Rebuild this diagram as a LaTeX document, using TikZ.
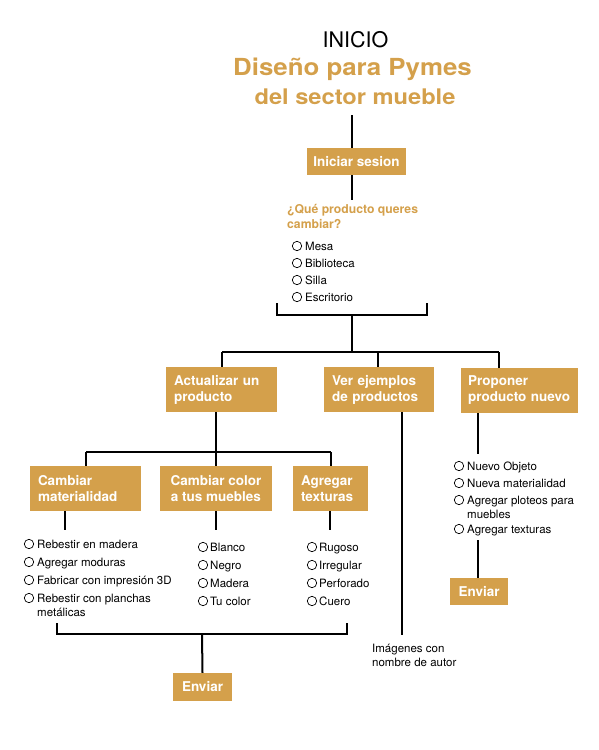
\documentclass[tikz,border=0pt]{standalone}
\usepackage{fontspec}
\setmainfont{TeX Gyre Heros}
\definecolor{gold}{HTML}{D4A04B}
\begin{document}
\begin{tikzpicture}[x=1pt,y=-1pt,
  box/.style={fill=gold,text=white,font=\bfseries\fontsize{13.5}{16}\selectfont,inner sep=0pt,align=left},
  opt/.style={anchor=base west,inner sep=0pt,font=\fontsize{11.5}{14}\selectfont,align=left},
  wire/.style={line width=2pt},
  ring/.style={line width=0.7pt}]
\useasboundingbox (0,0) rectangle (598,750);

% titles
\node[anchor=base,inner sep=0pt,font=\fontsize{21.5}{24}\selectfont] (t1) at (355.5,47) {INICIO};
\node[anchor=base,inner sep=0pt,text=gold,xscale=1.1,font=\bfseries\fontsize{23.5}{28}\selectfont] (t2) at (352.5,75) {Diseño para Pymes};
\node[anchor=base,inner sep=0pt,text=gold,xscale=1.1,font=\bfseries\fontsize{21.5}{24}\selectfont] (t3) at (355,104) {del sector mueble};

% boxes
\node[box,minimum width=99pt,minimum height=27pt,align=center] (ini) at (356.5,161.5) {Iniciar sesion};
\node[box,minimum width=111pt,minimum height=45pt,text width=95pt] (act) at (221.5,389.5) {Actualizar un\\producto};
\node[box,minimum width=110pt,minimum height=45pt,text width=94pt] (ver) at (379,389.5) {Ver ejemplos\\de productos};
\node[box,minimum width=117pt,minimum height=45pt,text width=103pt] (pro) at (519.5,390.5) {Proponer\\producto nuevo};
\node[box,minimum width=111pt,minimum height=45pt,text width=95pt] (mat) at (85.5,488.5) {Cambiar\\materialidad};
\node[box,minimum width=112pt,minimum height=45pt,align=center] (col) at (216,488.5) {Cambiar color\\a tus muebles};
\node[box,minimum width=75pt,minimum height=45pt,text width=59pt] (tex) at (330.5,488.5) {Agregar\\texturas};
\node[box,minimum width=59pt,minimum height=28pt,align=center] (env1) at (202.5,687) {Enviar};
\node[box,minimum width=58pt,minimum height=27pt,align=center] (env2) at (479,591.5) {Enviar};

% question (base = last line)
\node[anchor=base west,inner sep=0pt,text=gold,align=left,font=\bfseries\fontsize{12.2}{14.5}\selectfont] (q) at (287,228) {¿Qué producto queres\\cambiar?};

% options: product
\foreach \t/\y [count=\i] in {Mesa/246,Biblioteca/263,Silla/280,Escritorio/297}{
  \draw[ring] (297,\y) circle (4.7);
  \node[opt] (p\i) at (305,\y+4) {\t};
}
% options: materialidad
\foreach \t/\y [count=\i] in {Rebestir en madera/544,Agregar moduras/562,Fabricar con impresión 3D/580}{
  \draw[ring] (29,\y) circle (4.7);
  \node[opt] (m\i) at (37,\y+4) {\t};
}
\draw[ring] (29,598) circle (4.7);
\node[opt] (m4) at (37,616) {Rebestir con planchas\\metálicas};
% options: color
\foreach \t/\y [count=\i] in {Blanco/547,Negro/565,Madera/583,Tu color/601}{
  \draw[ring] (203,\y) circle (4.7);
  \node[opt] (c\i) at (210,\y+4) {\t};
}
% options: texturas
\foreach \t/\y [count=\i] in {Rugoso/547,Irregular/565,Perforado/583,Cuero/601}{
  \draw[ring] (312,\y) circle (4.7);
  \node[opt] (x\i) at (319,\y+4) {\t};
}
% options: nuevo
\foreach \t/\y [count=\i] in {Nuevo Objeto/466,Nueva materialidad/483}{
  \draw[ring] (459,\y) circle (4.7);
  \node[opt] (n\i) at (467,\y+4) {\t};
}
\draw[ring] (459,500) circle (4.7);
\node[opt] (n3) at (467,518) {Agregar ploteos para\\muebles};
\draw[ring] (459,529) circle (4.7);
\node[opt] (n4) at (467,533) {Agregar texturas};

% imagenes
\node[opt] (img) at (372,666) {Imágenes con\\nombre de autor};

% connectors
\coordinate (top) at (352,115);
\draw[line width=2.7pt] (top) -- (top |- ini.north);
\coordinate (s1) at (352,175);
\coordinate (s2) at (352,200);
\draw[line width=2.7pt] (s1) -- (s2);

\coordinate (b1) at (277,303);
\coordinate (b2) at (427,303);
\coordinate (bm) at (352,315);
\coordinate (hub) at (352,352);
\draw[wire] (b1) -- (b1 |- bm) -- (b2 |- bm) -- (b2);
\draw[wire] (bm) -- (hub);
\coordinate (hl) at (222,352);
\coordinate (hm) at (378,352);
\coordinate (hr) at (499,352);
\draw[wire] (hl) -- (hr);
\draw[wire] (hl) -- (hl |- act.north);
\draw[wire] (hm) -- (hm |- ver.north);
\draw[wire] (hr) -- (hr |- pro.north);

\coordinate (hub2) at (216,452);
\draw[wire] (act.south -| hub2) -- (hub2);
\coordinate (h2l) at (86,452);
\coordinate (h2r) at (331,452);
\draw[wire] (h2l) -- (h2r);
\draw[wire] (h2l) -- (h2l |- mat.north);
\draw[wire] (hub2) -- (hub2 |- col.north);
\draw[wire] (h2r) -- (h2r |- tex.north);

\coordinate (sm) at (65,530);
\coordinate (sc) at (216,530);
\coordinate (st) at (330,530);
\draw[wire] (sm |- mat.south) -- (sm);
\draw[wire] (sc |- col.south) -- (sc);
\draw[wire] (st |- tex.south) -- (st);

\coordinate (c1) at (57,623);
\coordinate (c2) at (347,623);
\coordinate (cm) at (202,634);
\draw[wire] (c1) -- (c1 |- cm) -- (c2 |- cm) -- (c2);
\draw[wire] (cm) -- (env1.north);

\coordinate (vs) at (402,635);
\draw[wire] (vs |- ver.south) -- (vs);

\coordinate (ps) at (477.5,454);
\draw[wire] (ps |- pro.south) -- (ps);
\coordinate (ps2) at (477.5,540);
\draw[wire] (ps2) -- (ps2 |- env2.north);
\end{tikzpicture}
\end{document}
